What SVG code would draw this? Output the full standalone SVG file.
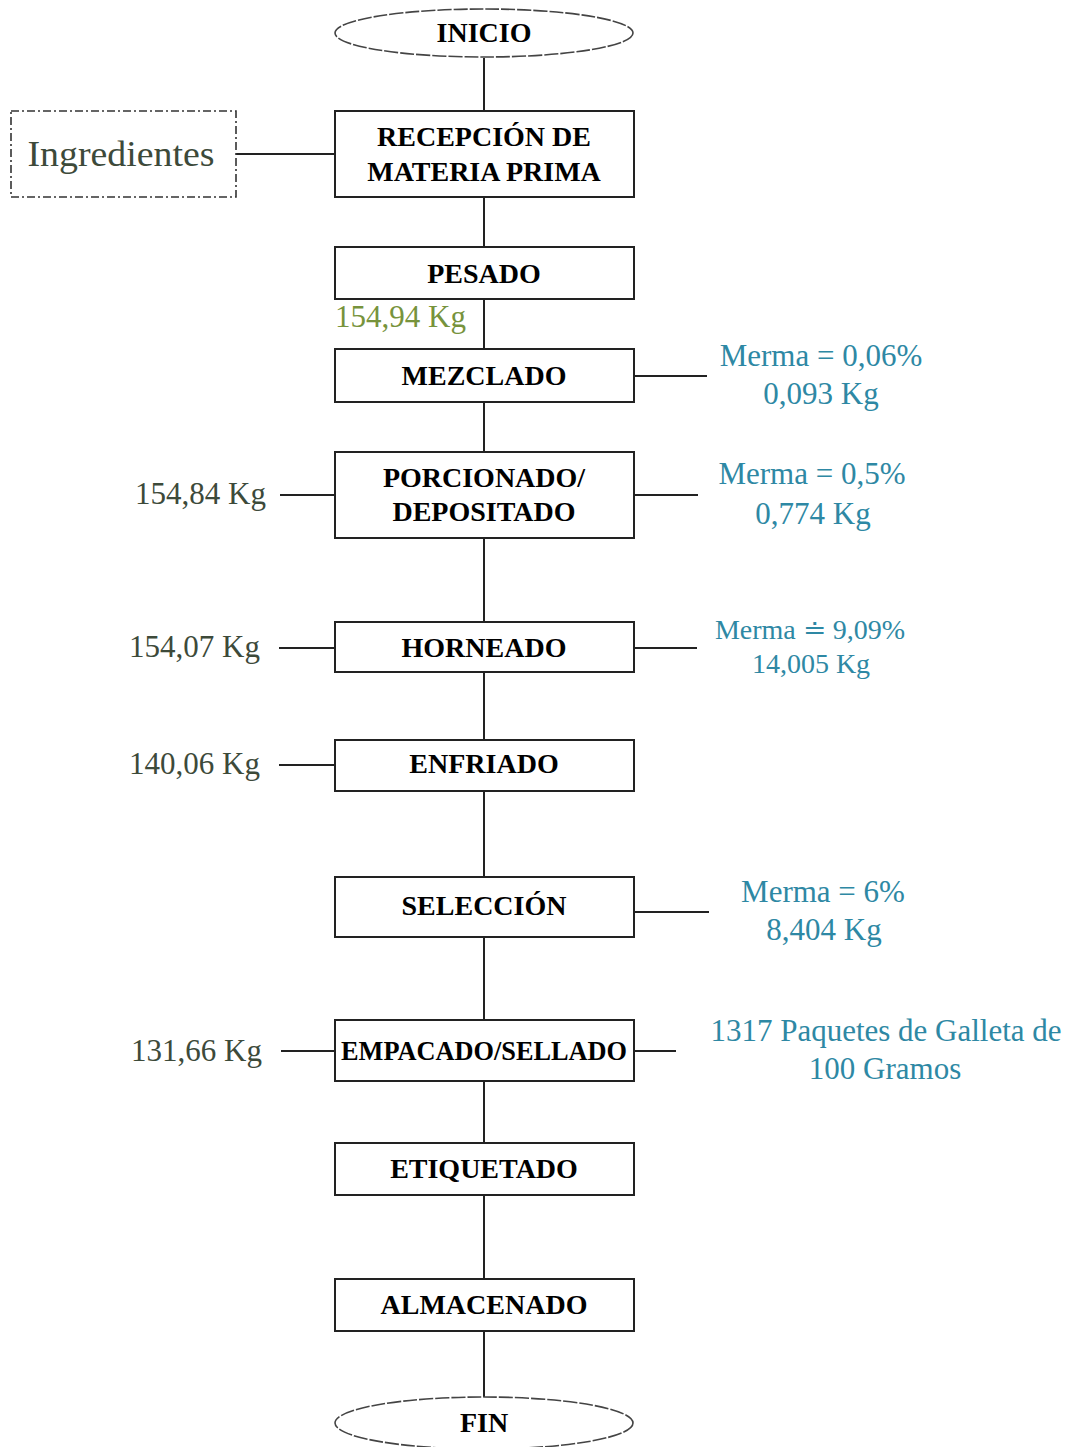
<svg xmlns="http://www.w3.org/2000/svg" width="1075" height="1447" viewBox="0 0 1075 1447">
<style>
.box{fill:#fff;stroke:#222;stroke-width:2}
.term{fill:#fff;stroke:#444;stroke-width:1.6;stroke-dasharray:14 2}
.lbl{font-family:"Liberation Serif","Times New Roman",serif;font-weight:bold;font-size:28px;fill:#000;text-anchor:middle}
.side{font-family:"Liberation Serif","Times New Roman",serif;font-size:31px;fill:#3d4a3a}
.teal{font-family:"Liberation Serif","Times New Roman",serif;font-size:31px;fill:#2e88a4;text-anchor:middle}
.conn line{stroke:#222;stroke-width:2}
</style>
<rect width="1075" height="1447" fill="#fff"/>
<g class="conn">
<line x1="484" y1="58" x2="484" y2="111"/>
<line x1="484" y1="197" x2="484" y2="247"/>
<line x1="484" y1="299" x2="484" y2="349"/>
<line x1="484" y1="402" x2="484" y2="452"/>
<line x1="484" y1="538" x2="484" y2="622"/>
<line x1="484" y1="672" x2="484" y2="740"/>
<line x1="484" y1="791" x2="484" y2="877"/>
<line x1="484" y1="937" x2="484" y2="1020"/>
<line x1="484" y1="1081" x2="484" y2="1143"/>
<line x1="484" y1="1195" x2="484" y2="1279"/>
<line x1="484" y1="1331" x2="484" y2="1397"/>
<line x1="236" y1="154" x2="335" y2="154"/>
<line x1="280" y1="495" x2="335" y2="495"/>
<line x1="279" y1="648" x2="335" y2="648"/>
<line x1="279" y1="765" x2="335" y2="765"/>
<line x1="281" y1="1051" x2="335" y2="1051"/>
<line x1="634" y1="376" x2="707" y2="376"/>
<line x1="634" y1="495" x2="698" y2="495"/>
<line x1="634" y1="648" x2="697" y2="648"/>
<line x1="634" y1="912" x2="709" y2="912"/>
<line x1="634" y1="1051" x2="676" y2="1051"/>
</g>
<g id="inicio"><ellipse class="term" cx="484" cy="33" rx="149" ry="24"/><text class="lbl" x="484" y="42">INICIO</text></g>
<g id="ingredientes"><rect x="11" y="111" width="225" height="86" fill="#fff" stroke="#333" stroke-width="1.6" stroke-dasharray="8 3 2 3"/><text x="121" y="166" font-family="Liberation Serif,serif" font-size="36" fill="#3d4a3a" text-anchor="middle" textLength="187" lengthAdjust="spacingAndGlyphs">Ingredientes</text></g>
<g id="recepcion"><rect class="box" x="335" y="111" width="299" height="86"/><text class="lbl" x="484" y="146">RECEPCIÓN DE</text><text class="lbl" x="484" y="181">MATERIA PRIMA</text></g>
<g id="pesado"><rect class="box" x="335" y="247" width="299" height="52"/><text class="lbl" x="484" y="283">PESADO</text></g>
<g id="mezclado"><rect class="box" x="335" y="349" width="299" height="53"/><text class="lbl" x="484" y="385">MEZCLADO</text></g>
<g id="porcionado"><rect class="box" x="335" y="452" width="299" height="86"/><text class="lbl" x="484" y="487">PORCIONADO/</text><text class="lbl" x="484" y="521">DEPOSITADO</text></g>
<g id="horneado"><rect class="box" x="335" y="622" width="299" height="50"/><text class="lbl" x="484" y="657">HORNEADO</text></g>
<g id="enfriado"><rect class="box" x="335" y="740" width="299" height="51"/><text class="lbl" x="484" y="773">ENFRIADO</text></g>
<g id="seleccion"><rect class="box" x="335" y="877" width="299" height="60"/><text class="lbl" x="484" y="915">SELECCIÓN</text></g>
<g id="empacado"><rect class="box" x="335" y="1020" width="299" height="61"/><text class="lbl" x="484" y="1060" font-size="26" textLength="286" lengthAdjust="spacingAndGlyphs">EMPACADO/SELLADO</text></g>
<g id="etiquetado"><rect class="box" x="335" y="1143" width="299" height="52"/><text class="lbl" x="484" y="1178">ETIQUETADO</text></g>
<g id="almacenado"><rect class="box" x="335" y="1279" width="299" height="52"/><text class="lbl" x="484" y="1314">ALMACENADO</text></g>
<g id="fin"><ellipse class="term" cx="484" cy="1423" rx="149" ry="26"/><text class="lbl" x="484" y="1432">FIN</text></g>
<g id="labels">
<text class="side" x="335" y="327" style="fill:#77933c">154,94 Kg</text>
<text class="side" x="135" y="504">154,84 Kg</text>
<text class="side" x="129" y="657">154,07 Kg</text>
<text class="side" x="129" y="774">140,06 Kg</text>
<text class="side" x="131" y="1061">131,66 Kg</text>
<text class="teal" x="821" y="366">Merma = 0,06%</text>
<text class="teal" x="821" y="404">0,093 Kg</text>
<text class="teal" x="812" y="484">Merma = 0,5%</text>
<text class="teal" x="813" y="524">0,774 Kg</text>
<text class="teal" x="810" y="639" style="font-size:28px">Merma ≐ 9,09%</text>
<text class="teal" x="811" y="673" style="font-size:28px">14,005 Kg</text>
<text class="teal" x="823" y="902">Merma = 6%</text>
<text class="teal" x="824" y="940">8,404 Kg</text>
<text class="teal" x="886" y="1041">1317 Paquetes de Galleta de</text>
<text class="teal" x="885" y="1079">100 Gramos</text>
</g>
</svg>
